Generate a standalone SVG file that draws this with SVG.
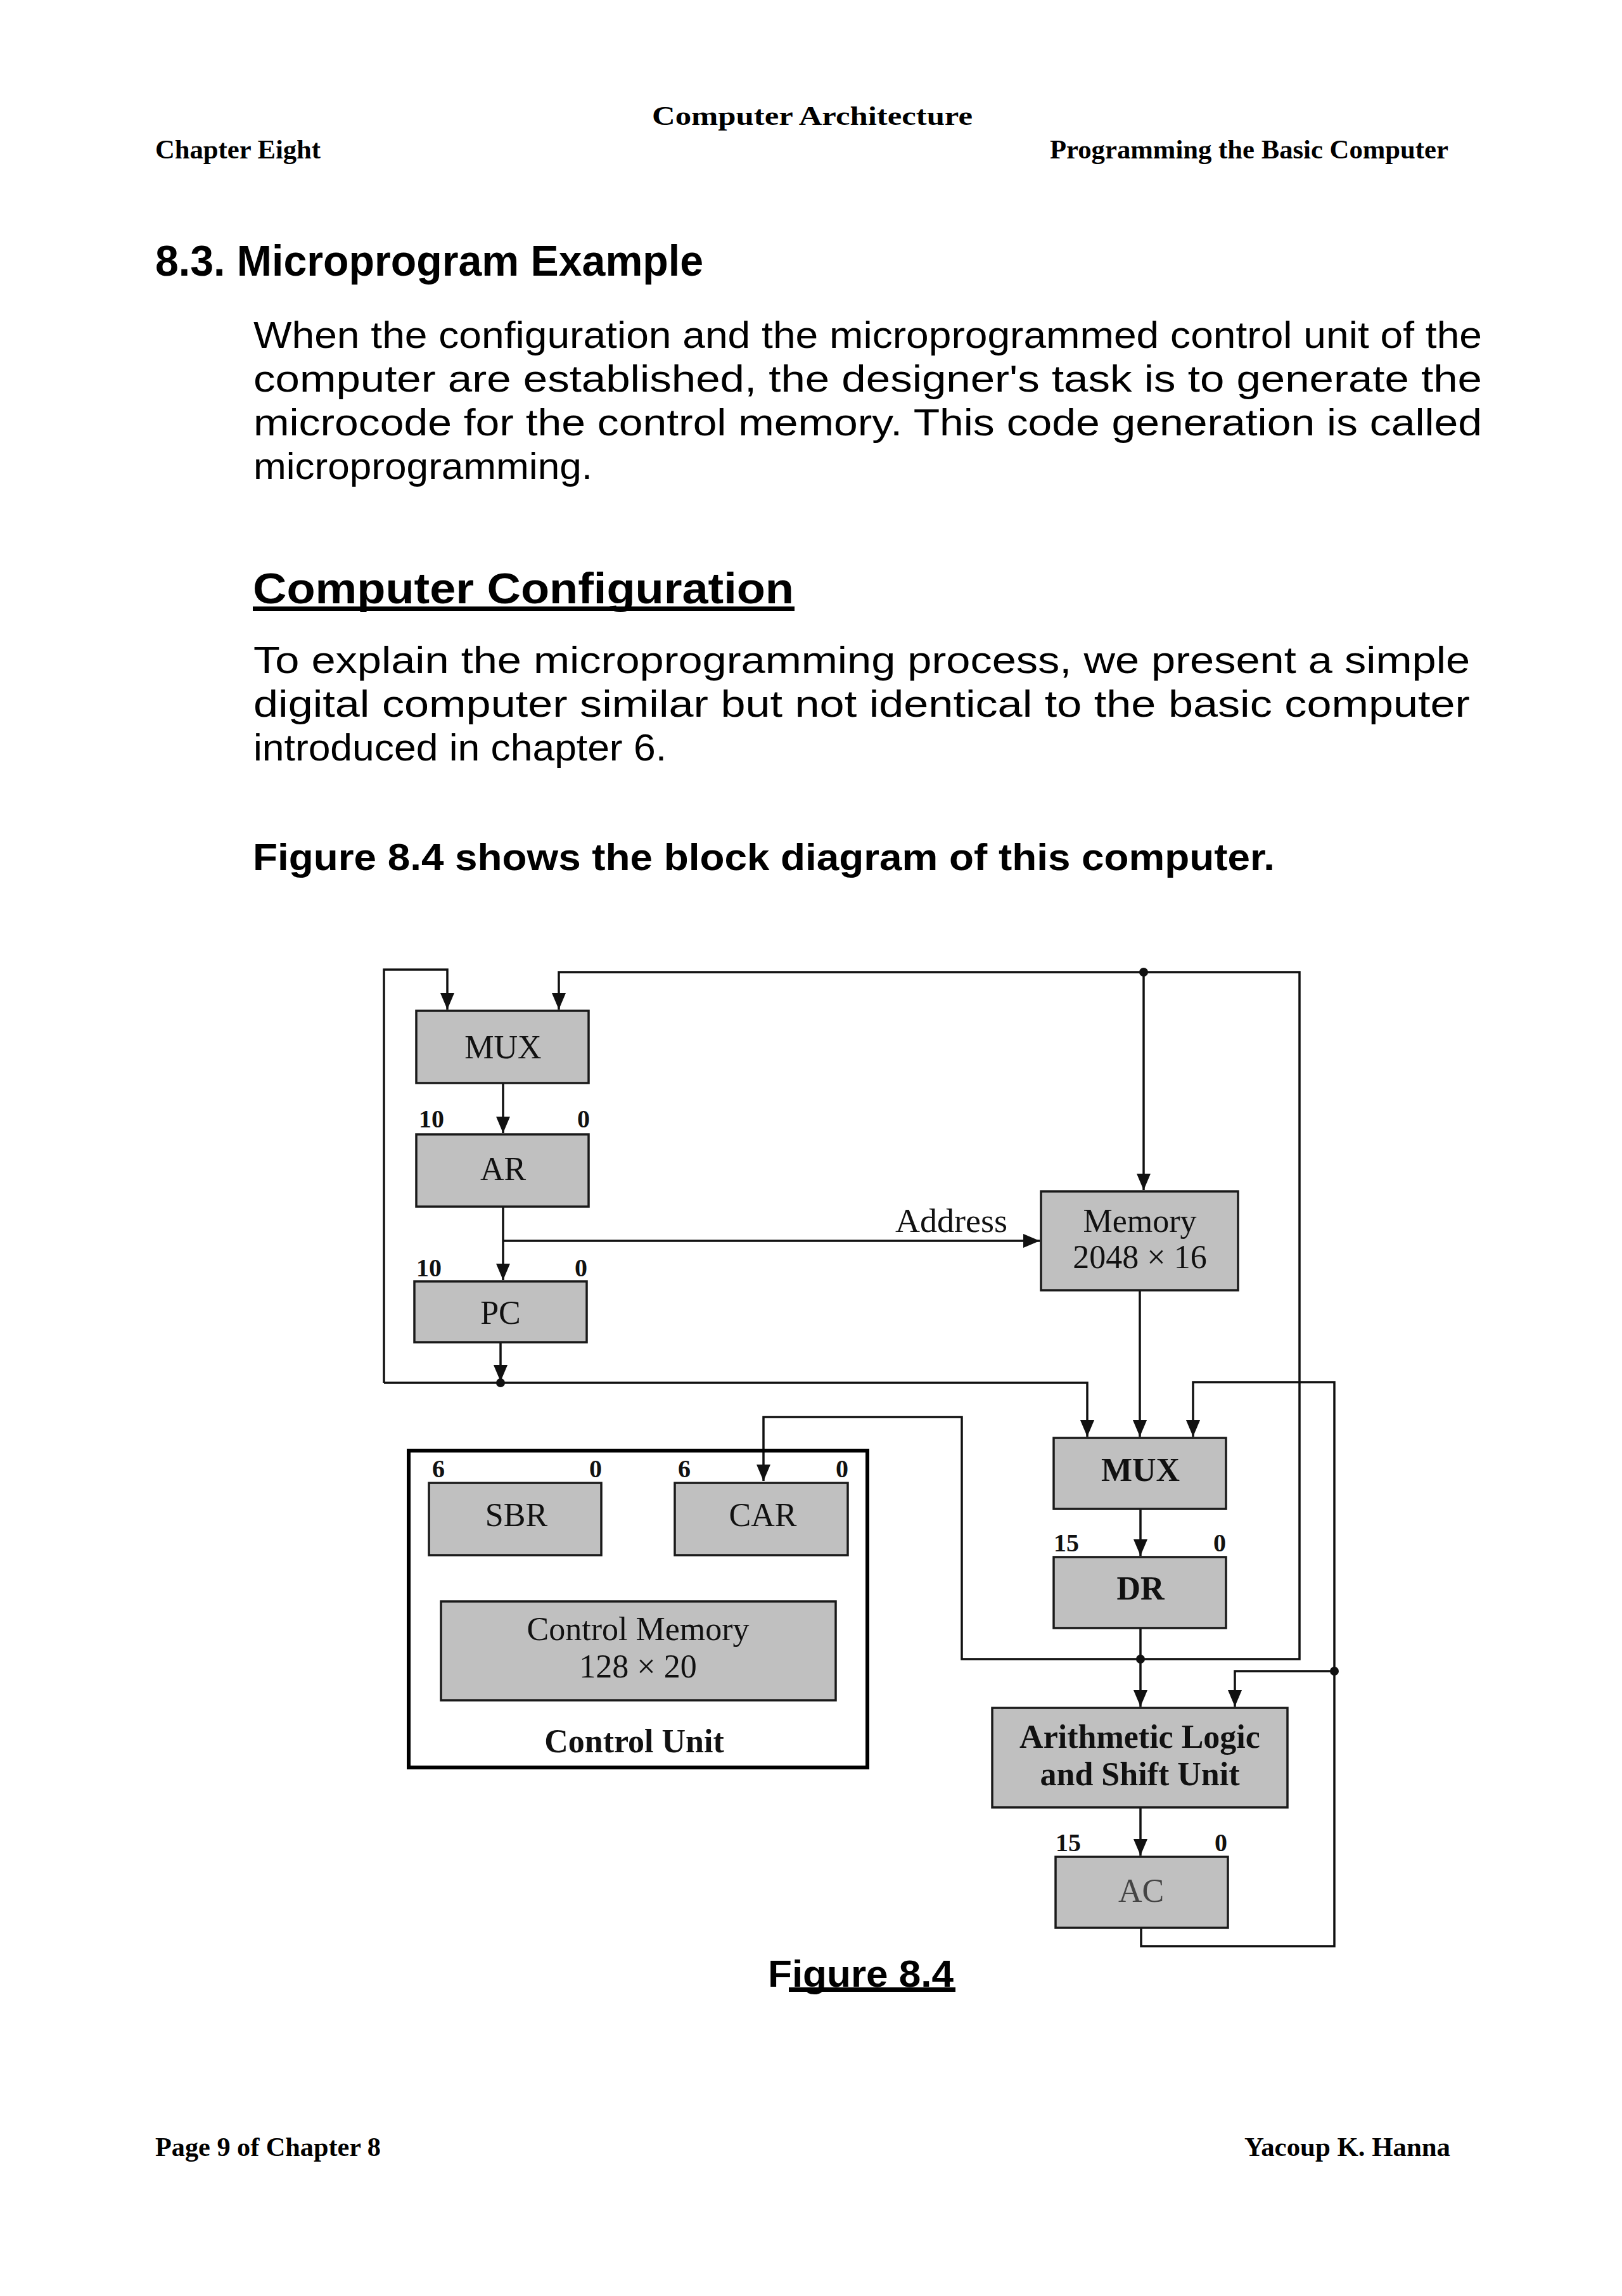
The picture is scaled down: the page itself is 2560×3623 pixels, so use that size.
<svg xmlns="http://www.w3.org/2000/svg" width="2560" height="3623" viewBox="0 0 2560 3623">
<style>
.hdr{font-family:"Liberation Serif","Times New Roman",serif;font-weight:bold;font-size:42px;fill:#000}
.h1{font-family:"Liberation Sans",Arial,sans-serif;font-weight:bold;font-size:68px;fill:#000}
.p{font-family:"Liberation Sans",Arial,sans-serif;font-size:60px;fill:#000}
.pb{font-family:"Liberation Sans",Arial,sans-serif;font-weight:bold;font-size:60px;fill:#000}
.box{fill:#c0c0c0;stroke:#1a1a1a;stroke-width:3.5}
.t{font-family:"Liberation Serif","Times New Roman",serif;font-size:52px;fill:#111;text-anchor:middle}
.tb{font-family:"Liberation Serif","Times New Roman",serif;font-size:52px;font-weight:bold;fill:#111;text-anchor:middle}
.lb{font-family:"Liberation Serif","Times New Roman",serif;font-size:40px;font-weight:bold;fill:#111}
.w{fill:none;stroke:#111;stroke-width:3.5}
</style>
<defs>
<marker id="ar" markerUnits="userSpaceOnUse" markerWidth="28" markerHeight="24" refX="26" refY="11" orient="auto" viewBox="0 0 28 24">
<path d="M0,0 L26,11 L0,22 z" fill="#111"/>
</marker>
</defs>
<rect width="2560" height="3623" fill="#fff"/>

<!-- page header -->
<text class="hdr" x="1282" y="197" font-size="50" text-anchor="middle" textLength="506" lengthAdjust="spacingAndGlyphs">Computer Architecture</text>
<text class="hdr" x="245" y="250" textLength="261" lengthAdjust="spacingAndGlyphs">Chapter Eight</text>
<text class="hdr" x="1657" y="250" textLength="629" lengthAdjust="spacingAndGlyphs">Programming the Basic Computer</text>

<!-- body text -->
<text class="h1" x="245" y="435" textLength="865" lengthAdjust="spacingAndGlyphs">8.3. Microprogram Example</text>
<text class="p" x="400" y="549" textLength="1939" lengthAdjust="spacingAndGlyphs">When the configuration and the microprogrammed control unit of the</text>
<text class="p" x="400" y="618" textLength="1939" lengthAdjust="spacingAndGlyphs">computer are established, the designer's task is to generate the</text>
<text class="p" x="400" y="687" textLength="1939" lengthAdjust="spacingAndGlyphs">microcode for the control memory. This code generation is called</text>
<text class="p" x="400" y="756" textLength="535" lengthAdjust="spacingAndGlyphs">microprogramming.</text>

<text class="h1" x="399" y="952" textLength="854" lengthAdjust="spacingAndGlyphs">Computer Configuration</text>
<rect x="399" y="957" width="855" height="7" fill="#000"/>

<text class="p" x="400" y="1062" textLength="1920" lengthAdjust="spacingAndGlyphs">To explain the microprogramming process, we present a simple</text>
<text class="p" x="400" y="1131" textLength="1920" lengthAdjust="spacingAndGlyphs">digital computer similar but not identical to the basic computer</text>
<text class="p" x="400" y="1200" textLength="652" lengthAdjust="spacingAndGlyphs">introduced in chapter 6.</text>

<text class="pb" x="399" y="1373" textLength="1613" lengthAdjust="spacingAndGlyphs">Figure 8.4 shows the block diagram of this computer.</text>

<!-- connectors -->
<g id="connectors">
<path class="w" d="M606,2182 V1530 H706 V1593" marker-end="url(#ar)"/>
<path class="w" d="M606,2182 H1716 V2267" marker-end="url(#ar)"/>
<path class="w" d="M790,2118 V2180" marker-end="url(#ar)"/>
<path class="w" d="M1800,2618 H2051 V1534 H882 V1593" marker-end="url(#ar)"/>
<path class="w" d="M1800,2618 H1518 V2236 H1205 V2337" marker-end="url(#ar)"/>
<path class="w" d="M1805,1534 V1878" marker-end="url(#ar)"/>
<path class="w" d="M794,1709 V1788" marker-end="url(#ar)"/>
<path class="w" d="M794,1904 V2020" marker-end="url(#ar)"/>
<path class="w" d="M794,1958 H1641" marker-end="url(#ar)"/>
<path class="w" d="M1799,2036 V2267" marker-end="url(#ar)"/>
<path class="w" d="M1800,2381 V2455" marker-end="url(#ar)"/>
<path class="w" d="M1800,2569 V2693" marker-end="url(#ar)"/>
<path class="w" d="M1800,2852 V2928" marker-end="url(#ar)"/>
<path class="w" d="M1801,3042 V3071 H2106 V2181 H1883 V2267" marker-end="url(#ar)"/>
<path class="w" d="M2106,2637 H1949 V2693" marker-end="url(#ar)"/>
<circle cx="1805" cy="1534" r="7" fill="#111"/>
<circle cx="790" cy="2182" r="7" fill="#111"/>
<circle cx="1800" cy="2618" r="7" fill="#111"/>
<circle cx="2106" cy="2637" r="7" fill="#111"/>
<text x="1413" y="1944" class="t" style="text-anchor:start" textLength="177" lengthAdjust="spacingAndGlyphs">Address</text>
</g>

<!-- nodes -->
<g id="mux1">
<rect class="box" x="657" y="1595" width="272" height="114"/>
<text class="t" x="794" y="1670">MUX</text>
</g>
<g id="ar-reg">
<text class="lb" x="661" y="1779">10</text>
<text class="lb" x="931" y="1779" text-anchor="end">0</text>
<rect class="box" x="657" y="1790" width="272" height="114"/>
<text class="t" x="794" y="1862">AR</text>
</g>
<g id="pc">
<text class="lb" x="657" y="2014">10</text>
<text class="lb" x="927" y="2014" text-anchor="end">0</text>
<rect class="box" x="654" y="2022" width="272" height="96"/>
<text class="t" x="790" y="2089">PC</text>
</g>
<g id="memory">
<rect class="box" x="1643" y="1880" width="311" height="156"/>
<text class="t" x="1799" y="1944">Memory</text>
<text class="t" x="1799" y="2001">2048 × 16</text>
</g>
<g id="control-unit">
<rect x="645" y="2289" width="724" height="500" fill="none" stroke="#000" stroke-width="6"/>
<text class="tb" x="1001" y="2765" font-size="56">Control Unit</text>
</g>
<g id="sbr">
<text class="lb" x="682" y="2331">6</text>
<text class="lb" x="950" y="2331" text-anchor="end">0</text>
<rect class="box" x="677" y="2340" width="272" height="114"/>
<text class="t" x="815" y="2408">SBR</text>
</g>
<g id="car">
<text class="lb" x="1070" y="2331">6</text>
<text class="lb" x="1339" y="2331" text-anchor="end">0</text>
<rect class="box" x="1065" y="2340" width="273" height="114"/>
<text class="t" x="1204" y="2408">CAR</text>
</g>
<g id="control-memory">
<rect class="box" x="696" y="2527" width="623" height="156"/>
<text class="t" x="1007" y="2588">Control Memory</text>
<text class="t" x="1007" y="2647">128 × 20</text>
</g>
<g id="mux2">
<rect class="box" x="1663" y="2269" width="272" height="112"/>
<text class="tb" x="1800" y="2337" font-size="50">MUX</text>
</g>
<g id="dr">
<text class="lb" x="1663" y="2448">15</text>
<text class="lb" x="1935" y="2448" text-anchor="end">0</text>
<rect class="box" x="1663" y="2457" width="272" height="112"/>
<text class="tb" x="1800" y="2524" font-size="50">DR</text>
</g>
<g id="alu">
<rect class="box" x="1566" y="2695" width="466" height="157"/>
<text class="tb" x="1799" y="2758" font-size="50">Arithmetic Logic</text>
<text class="tb" x="1799" y="2817" font-size="50">and Shift Unit</text>
</g>
<g id="ac">
<text class="lb" x="1666" y="2921">15</text>
<text class="lb" x="1937" y="2921" text-anchor="end">0</text>
<rect class="box" x="1666" y="2930" width="272" height="112"/>
<text class="t" x="1801" y="3001" style="fill:#444">AC</text>
</g>

<!-- caption -->
<text class="pb" x="1212" y="3135" font-size="62" textLength="293" lengthAdjust="spacingAndGlyphs">Figure 8.4</text>
<rect x="1245" y="3136" width="263" height="7" fill="#000"/>

<!-- footer -->
<text class="hdr" x="245" y="3402" textLength="356" lengthAdjust="spacingAndGlyphs">Page 9 of Chapter 8</text>
<text class="hdr" x="1964" y="3402" textLength="325" lengthAdjust="spacingAndGlyphs">Yacoup K. Hanna</text>
</svg>
